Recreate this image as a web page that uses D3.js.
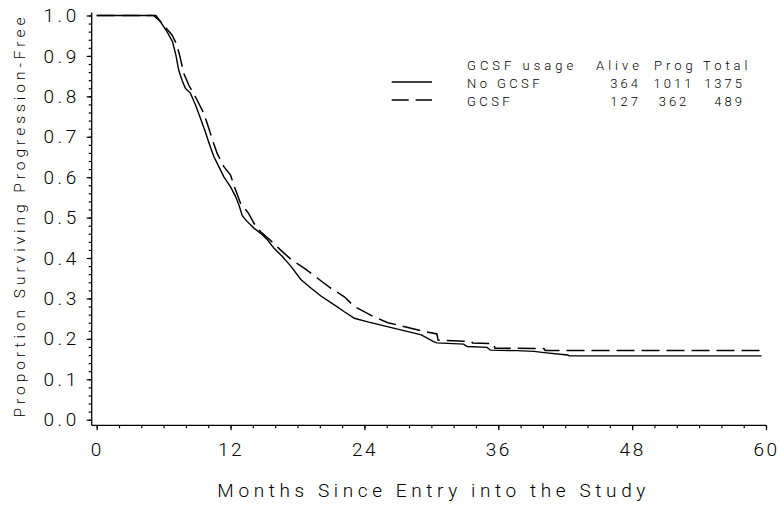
<!DOCTYPE html>
<html><head><meta charset="utf-8">
<script src="https://cdn.jsdelivr.net/npm/d3@7"></script>
<style>
html,body{margin:0;padding:0;background:#fff;}
svg{display:block;}
text{font-family:Roboto,"Liberation Sans",sans-serif;font-weight:300;fill:#000;}
</style></head>
<body>
<svg id="chart" width="780" height="506"></svg>
<script>
// ---- data ----
const seriesNames = ["No GCSF", "GCSF"];
const noGcsfTime = [0,5.1,5.7,6.3,6.8,7.1,7.35,7.65,7.95,8.4,8.85,9.3,9.75,10.05,10.5,10.95,11.4,12.0,12.45,12.75,13.05,13.5,14.1,14.7,15.3,15.9,16.6,17.4,18.3,19.2,20.1,21.3,22.2,23.1,24.3,25.5,26.7,27.9,29.1,30.2,30.5,32.9,33.2,35.0,35.3,37.7,39.2,40.1,42.2,42.4,59.6];
const noGcsfSurv = [1,1,0.985,0.96,0.935,0.902,0.865,0.84,0.82,0.808,0.779,0.746,0.711,0.686,0.651,0.626,0.601,0.576,0.552,0.531,0.505,0.49,0.474,0.461,0.445,0.424,0.405,0.38,0.347,0.326,0.306,0.284,0.267,0.251,0.242,0.234,0.226,0.218,0.21,0.193,0.19,0.187,0.181,0.179,0.172,0.171,0.169,0.166,0.16,0.158,0.158];
const gcsfTime = [0,5.3,6.0,6.75,7.2,7.5,7.8,8.25,9.0,9.6,10.05,10.4,10.8,11.4,12.0,12.45,12.9,13.6,14.1,14.7,15.6,16.4,17.4,18.6,19.8,21.0,22.2,23.1,24.6,26.1,27.9,29.4,30.5,30.6,33.6,33.7,35.6,35.7,40.1,40.2,59.6];
const gcsfSurv = [1,1,0.976,0.952,0.927,0.894,0.857,0.828,0.791,0.758,0.721,0.69,0.659,0.626,0.605,0.568,0.535,0.511,0.486,0.465,0.443,0.422,0.397,0.375,0.35,0.325,0.304,0.28,0.258,0.24,0.228,0.218,0.212,0.197,0.193,0.19,0.188,0.177,0.176,0.171,0.171];
const legendHeader = ["GCSF usage", "Alive", "Prog", "Total"];
const aliveCounts = [364, 127];
const progCounts = [1011, 362];
const totalCounts = [1375, 489];
const xTickValues = [0, 12, 24, 36, 48, 60];
const yTickLabels = ["0.0","0.1","0.2","0.3","0.4","0.5","0.6","0.7","0.8","0.9","1.0"];
const xTitle = "Months Since Entry into the Study";
const yTitle = "Proportion Surviving Progression-Free";

// ---- layout ----
const svg = d3.select("#chart");
const x = d3.scaleLinear().domain([0, 60]).range([96.7, 766]);
const y = d3.scaleLinear().domain([0, 1]).range([419.7, 15.5]);
const axisY = 425.3, axisX = 91.7;

// axis lines
svg.append("line").attr("x1", axisX).attr("x2", x.range()[1]).attr("y1", axisY).attr("y2", axisY)
  .attr("stroke", "#000").attr("stroke-width", 1.3);
svg.append("line").attr("x1", axisX).attr("x2", axisX).attr("y1", axisY).attr("y2", y.range()[1] - 3)
  .attr("stroke", "#000").attr("stroke-width", 1.3);

// x axis
const xMinor = d3.range(0, 61, 2);
const gxm = svg.append("g").attr("transform", `translate(0,${axisY})`)
  .call(d3.axisBottom(x).tickValues(xMinor).tickSize(3).tickFormat(""));
const gx = svg.append("g").attr("transform", `translate(0,${axisY})`)
  .call(d3.axisBottom(x).tickValues(xTickValues).tickSize(5).tickPadding(12).tickFormat(d3.format("d")));
[gxm, gx].forEach(g => { g.select(".domain").remove(); g.selectAll("line").attr("stroke", "#000").attr("stroke-width", 1.2); });
gx.selectAll("text").attr("font-size", 19).attr("letter-spacing", "2.5px").attr("dy", "0.71em")
  .attr("font-family", "Roboto, 'Liberation Sans', sans-serif");

// y axis
const yMinor = d3.range(0, 51).map(i => i / 50);
const gym = svg.append("g").attr("transform", `translate(${axisX},0)`)
  .call(d3.axisLeft(y).tickValues(yMinor).tickSize(3).tickFormat(""));
const gy = svg.append("g").attr("transform", `translate(${axisX},0)`)
  .call(d3.axisLeft(y).tickValues(yTickLabels.map(Number)).tickSize(5).tickPadding(7)
    .tickFormat((d, i) => yTickLabels[i]));
[gym, gy].forEach(g => { g.select(".domain").remove(); g.selectAll("line").attr("stroke", "#000").attr("stroke-width", 1.2); });
gy.selectAll("text").attr("font-size", 19).attr("letter-spacing", "3.5px")
  .attr("font-family", "Roboto, 'Liberation Sans', sans-serif");

// titles
svg.append("text").attr("x", (x.range()[0] + x.range()[1]) / 2).attr("y", 497)
  .attr("text-anchor", "middle").attr("font-size", 19)
  .attr("textLength", 428).attr("lengthAdjust", "spacing").text(xTitle);
svg.append("text").attr("transform", `translate(25,${(y.range()[0] + y.range()[1]) / 2}) rotate(-90)`)
  .attr("text-anchor", "middle").attr("font-size", 15.5)
  .attr("textLength", 400).attr("lengthAdjust", "spacing").text(yTitle);

// curves
const line = d3.line().x(d => x(d[0])).y(d => y(d[1]));
const s1 = noGcsfTime.map((t, i) => [t, noGcsfSurv[i]]);
const s2 = gcsfTime.map((t, i) => [t, gcsfSurv[i]]);
svg.append("path").datum(s1).attr("d", line).attr("fill", "none").attr("stroke", "#000").attr("stroke-width", 1.4);
svg.append("path").datum(s2).attr("d", line).attr("fill", "none").attr("stroke", "#000").attr("stroke-width", 1.5)
  .attr("stroke-dasharray", "18,7");

// legend
const lg = svg.append("g").attr("font-size", 13);
const colX = [467, 596, 654, 703];
legendHeader.forEach((h, i) => lg.append("text").attr("x", colX[i]).attr("y", 70)
  .attr("letter-spacing", "4px").attr("font-size", 13).text(h));
const rowY = [88, 106];
const lineY = [82, 100];
const dash = [null, "17,7"];
seriesNames.forEach((n, i) => {
  lg.append("line").attr("x1", 391.7).attr("x2", 432).attr("y1", lineY[i]).attr("y2", lineY[i])
    .attr("stroke", "#000").attr("stroke-width", 1.5).attr("stroke-dasharray", dash[i]);
  lg.append("text").attr("x", 467).attr("y", rowY[i]).attr("letter-spacing", "3.4px").text(n);
  lg.append("text").attr("x", 641).attr("y", rowY[i]).attr("text-anchor", "end").attr("letter-spacing", "3px").text(aliveCounts[i]);
  lg.append("text").attr("x", 674).attr("y", rowY[i]).attr("text-anchor", "middle").attr("letter-spacing", "3px").text(progCounts[i]);
  lg.append("text").attr("x", 745).attr("y", rowY[i]).attr("text-anchor", "end").attr("letter-spacing", "3px").text(totalCounts[i]);
});
</script>
</body></html>
